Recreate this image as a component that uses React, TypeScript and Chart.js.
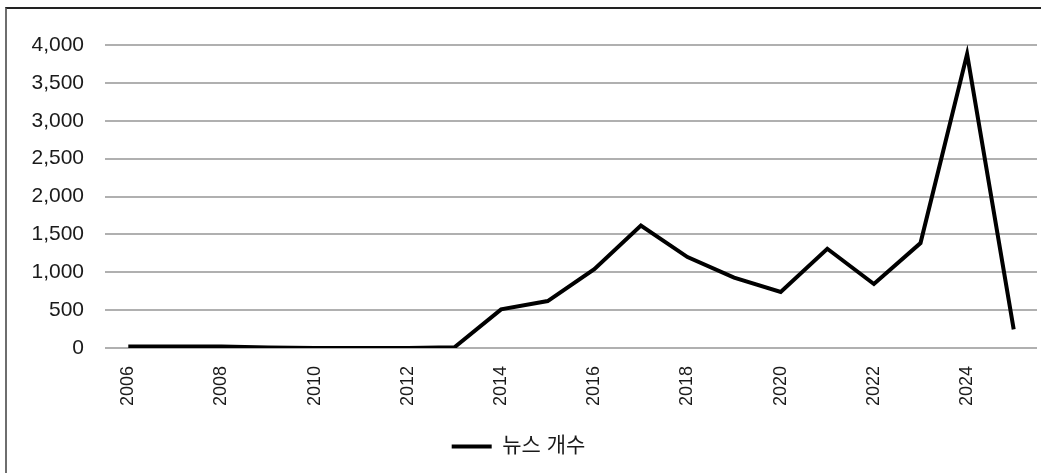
import React, { useEffect, useRef } from "react";
import { Chart, registerables } from "chart.js";

Chart.register(...registerables);

const years = [
  "2006", "2007", "2008", "2009", "2010", "2011", "2012", "2013", "2014", "2015",
  "2016", "2017", "2018", "2019", "2020", "2021", "2022", "2023", "2024", "2025",
];
const newsCounts = [
  20, 20, 20, 5, 0, 0, 0, 10, 510, 620,
  1040, 1615, 1200, 930, 740, 1310, 845, 1385, 3880, 245,
];
const seriesLabel = "뉴스 개수";
const yTicksMin = 0;
const yTicksMax = 4000;
const yTickStep = 500;

export default function App() {
  const canvasRef = useRef<HTMLCanvasElement | null>(null);

  useEffect(() => {
    const canvas = canvasRef.current;
    if (!canvas) return;
    const chart = new Chart(canvas, {
      type: "line",
      data: {
        labels: years,
        datasets: [
          {
            label: seriesLabel,
            data: newsCounts,
            borderColor: "#000000",
            backgroundColor: "#000000",
            borderWidth: 4,
            pointRadius: 0,
            pointHoverRadius: 0,
            tension: 0,
            borderJoinStyle: "miter",
            fill: false,
          },
        ],
      },
      options: {
        responsive: false,
        animation: false,
        layout: { padding: { left: 0, right: 4, top: 45, bottom: 6 } },
        plugins: {
          tooltip: { enabled: false },
          legend: {
            display: true,
            position: "bottom",
            labels: {
              boxWidth: 40,
              boxHeight: 4,
              padding: 10,
              color: "#1a1a1a",
              font: { family: "'Liberation Sans', 'Noto Sans CJK KR', sans-serif", size: 21 },
              generateLabels: (c: any) =>
                Chart.defaults.plugins.legend.labels.generateLabels(c).map((l: any) => ({
                  ...l,
                  lineWidth: 0,
                })),
            },
          },
        },
        scales: {
          x: {
            offset: true,
            grid: { display: false, drawTicks: false },
            border: { display: false },
            afterFit: (s: any) => {
              s.height = 78;
              s.paddingLeft = 0;
              s.paddingRight = 0;
            },
            ticks: {
              autoSkip: false,
              maxRotation: 90,
              minRotation: 90,
              padding: 18,
              color: "#1a1a1a",
              font: { family: "'Liberation Sans', sans-serif", size: 18 },
              callback: function (this: any, _v: any, i: number) {
                return i % 2 === 0 ? years[i] : "";
              },
            },
          },
          y: {
            min: yTicksMin,
            max: yTicksMax,
            afterFit: (s: any) => {
              s.width = 105;
            },
            grid: { color: "#b0b0b0", lineWidth: 2, drawTicks: false },
            border: { display: false },
            ticks: {
              stepSize: yTickStep,
              padding: 21,
              color: "#1a1a1a",
              font: { family: "'Liberation Sans', sans-serif", size: 21 },
              callback: (v: any) => Number(v).toLocaleString("en-US"),
            },
          },
        },
      },
    });
    return () => chart.destroy();
  }, []);

  return (
    <div style={{ position: "fixed", left: 0, top: 0, width: 1041, height: 473, background: "#fff" }}>
      <div
        style={{
          position: "absolute",
          left: 5,
          top: 7,
          width: 1040,
          height: 470,
          borderTop: "2px solid #222",
          borderLeft: "2px solid #6e6e6e",
          boxSizing: "border-box",
        }}
      />
      <canvas ref={canvasRef} width={1041} height={473} style={{ position: "absolute", left: 0, top: 0 }} />
    </div>
  );
}
